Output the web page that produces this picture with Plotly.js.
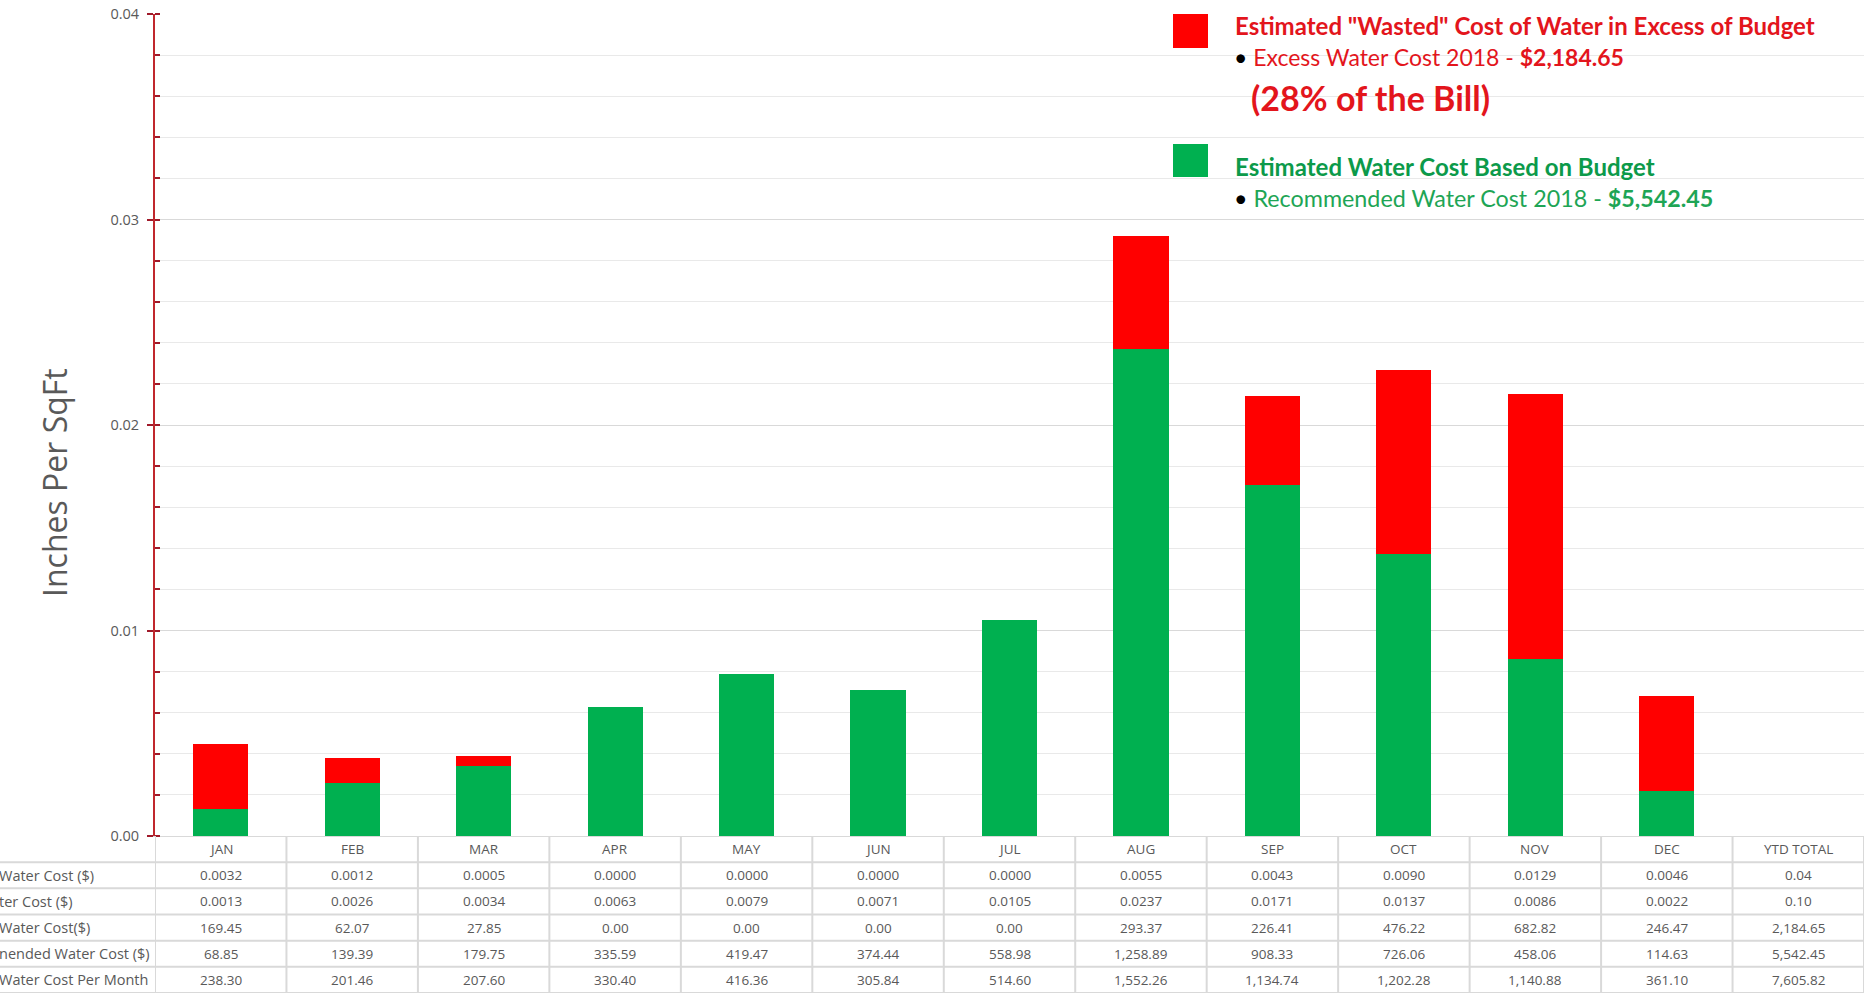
<!DOCTYPE html>
<html>
<head>
<meta charset="utf-8">
<script src="https://cdn.plot.ly/plotly-3.0.1.min.js"></script>
<style>html,body{margin:0;padding:0;background:#fff;}#chart{width:1870px;height:993px;}</style>
</head>
<body>
<div id="chart"></div>
<script>
// ---------- data ----------
const months = ['JAN','FEB','MAR','APR','MAY','JUN','JUL','AUG','SEP','OCT','NOV','DEC'];
const columns = months.concat(['YTD TOTAL']);
const excessInches = [0.0032,0.0012,0.0005,0.0000,0.0000,0.0000,0.0000,0.0055,0.0043,0.0090,0.0129,0.0046];
const budgetInches = [0.0013,0.0026,0.0034,0.0063,0.0079,0.0071,0.0105,0.0237,0.0171,0.0137,0.0086,0.0022];
const rowLabels = ['Water Cost ($)','ter Cost ($)','Water Cost($)','nended Water Cost ($)','Water Cost Per Month'];
const rowExcessInches = ['0.0032','0.0012','0.0005','0.0000','0.0000','0.0000','0.0000','0.0055','0.0043','0.0090','0.0129','0.0046','0.04'];
const rowBudgetInches = ['0.0013','0.0026','0.0034','0.0063','0.0079','0.0071','0.0105','0.0237','0.0171','0.0137','0.0086','0.0022','0.10'];
const rowExcessCost = ['169.45','62.07','27.85','0.00','0.00','0.00','0.00','293.37','226.41','476.22','682.82','246.47','2,184.65'];
const rowRecommendedCost = ['68.85','139.39','179.75','335.59','419.47','374.44','558.98','1,258.89','908.33','726.06','458.06','114.63','5,542.45'];
const rowTotalCost = ['238.30','201.46','207.60','330.40','416.36','305.84','514.60','1,552.26','1,134.74','1,202.28','1,140.88','361.10','7,605.82'];
const tableRows = [rowExcessInches, rowBudgetInches, rowExcessCost, rowRecommendedCost, rowTotalCost];
const yTickVals = [0, 0.01, 0.02, 0.03, 0.04];

// ---------- geometry ----------
const W = 1870, H = 993;
const M = {l:155, r:6, t:14, b:157};
const PW = W - M.l - M.r, PH = H - M.t - M.b;
const px = v => (v - M.l) / PW;          // pixel x -> paper
const py = v => (H - M.b - v) / PH;      // pixel y -> paper

const RED = '#ff0000', GREEN = '#00b050';
const TXT = '#595959', GRID = '#d9d9d9';
const FONT = 'Open Sans, Lato, sans-serif';
const LFONT = 'Lato, Open Sans, sans-serif';
const TFS = 13.5;

const traces = [
  {type:'bar', x: months, y: budgetInches, name:'Estimated Water Cost Based on Budget',
   marker:{color:GREEN}, width:0.42, hoverinfo:'x+y'},
  {type:'bar', x: months, y: excessInches, name:'Estimated "Wasted" Cost of Water in Excess of Budget',
   marker:{color:RED}, width:0.42, hoverinfo:'x+y'}
];

const shapes = [];
const annotations = [];

// table grid
const headerTop = H - M.b;             // 836
const rowH = (H - headerTop) / 6;
for (let i = 1; i <= 6; i++) {
  const yy = headerTop + i * rowH;
  shapes.push({type:'line', xref:'paper', yref:'paper', x0:px(0), x1:1, y0:py(yy), y1:py(yy),
    line:{color:GRID, width:2}});
}
for (let c = 0; c <= columns.length; c++) {
  shapes.push({type:'line', xref:'x', yref:'paper', x0:c - 0.5, x1:c - 0.5, y0:0, y1:py(H),
    line:{color:GRID, width:2}});
}
// header
columns.forEach((c) => {
  annotations.push({xref:'x', yref:'paper', x:c, y:py(headerTop + rowH/2), text:c, showarrow:false,
    xanchor:'center', yanchor:'middle', font:{family:FONT, size:TFS, color:TXT}});
});
// body
tableRows.forEach((row, r) => {
  const yc = py(headerTop + (r + 1.5) * rowH);
  annotations.push({xref:'paper', yref:'paper', x:px(-3), y:yc, text:rowLabels[r], showarrow:false,
    xanchor:'left', yanchor:'middle', font:{family:FONT, size:TFS + 1, color:TXT}});
  row.forEach((v, c) => {
    annotations.push({xref:'x', yref:'paper', x:columns[c], y:yc, text:v, showarrow:false,
      xanchor:'center', yanchor:'middle', font:{family:FONT, size:TFS, color:TXT}});
  });
});

// y title
annotations.push({xref:'paper', yref:'paper', x:px(54), y:py(483), text:'Inches Per SqFt', textangle:-90,
  showarrow:false, xanchor:'center', yanchor:'middle', font:{family:FONT, size:32, color:TXT}});

// custom legend
shapes.push({type:'rect', xref:'paper', yref:'paper', x0:px(1173), x1:px(1208), y0:py(48), y1:py(14),
  fillcolor:RED, line:{width:0}});
shapes.push({type:'rect', xref:'paper', yref:'paper', x0:px(1173), x1:px(1208), y0:py(177), y1:py(144),
  fillcolor:GREEN, line:{width:0}});
const legTxt = [
  {x:1233, y:26, text:'<b>Estimated "Wasted" Cost of Water in Excess of Budget</b>', size:24, color:'#e3151c'},
  {x:1232, y:57, text:'<span style="color:#000">•</span> Excess Water Cost 2018 - <b>$2,184.65</b>', size:23, color:'#e3151c'},
  {x:1249, y:97, text:'<b>(28% of the Bill)</b>', size:34, color:'#e3151c'},
  {x:1233, y:166, text:'<b>Estimated Water Cost Based on Budget</b>', size:24, color:'#0c9a4a'},
  {x:1232, y:198, text:'<span style="color:#000">•</span> Recommended Water Cost 2018 - <b>$5,542.45</b>', size:23.3, color:'#1ea555'}
];
legTxt.forEach(t => annotations.push({xref:'paper', yref:'paper', x:px(t.x), y:py(t.y), text:t.text,
  showarrow:false, xanchor:'left', yanchor:'middle', font:{family:LFONT, size:t.size, color:t.color}}));

const layout = {
  width: W, height: H,
  margin: M,
  paper_bgcolor:'#fff', plot_bgcolor:'#fff',
  barmode:'stack',
  showlegend:false,
  xaxis:{type:'category', categoryorder:'array', categoryarray:columns, range:[-0.5, columns.length - 0.5],
    showticklabels:false, ticks:'', showgrid:false, zeroline:false, showline:true, linecolor:GRID, linewidth:1, fixedrange:true},
  yaxis:{range:[0, 0.04], tickvals:yTickVals, tickformat:'.2f', showline:true, linecolor:'#c0272d', linewidth:2,
    ticks:'outside', ticklen:6, tickwidth:2, tickcolor:'#a01a2a', ticklabelstandoff:5,
    showgrid:true, gridcolor:GRID, gridwidth:1, zeroline:false,
    tickfont:{family:FONT, size:14.5, color:TXT},
    minor:{dtick:0.002, showgrid:true, gridcolor:'#e9e9e9', gridwidth:1, ticks:'inside', ticklen:5, tickcolor:'#a01a2a', tickwidth:2},
    fixedrange:true},
  shapes: shapes,
  annotations: annotations
};

Plotly.newPlot('chart', traces, layout, {displayModeBar:false, responsive:false});
</script>
</body>
</html>
